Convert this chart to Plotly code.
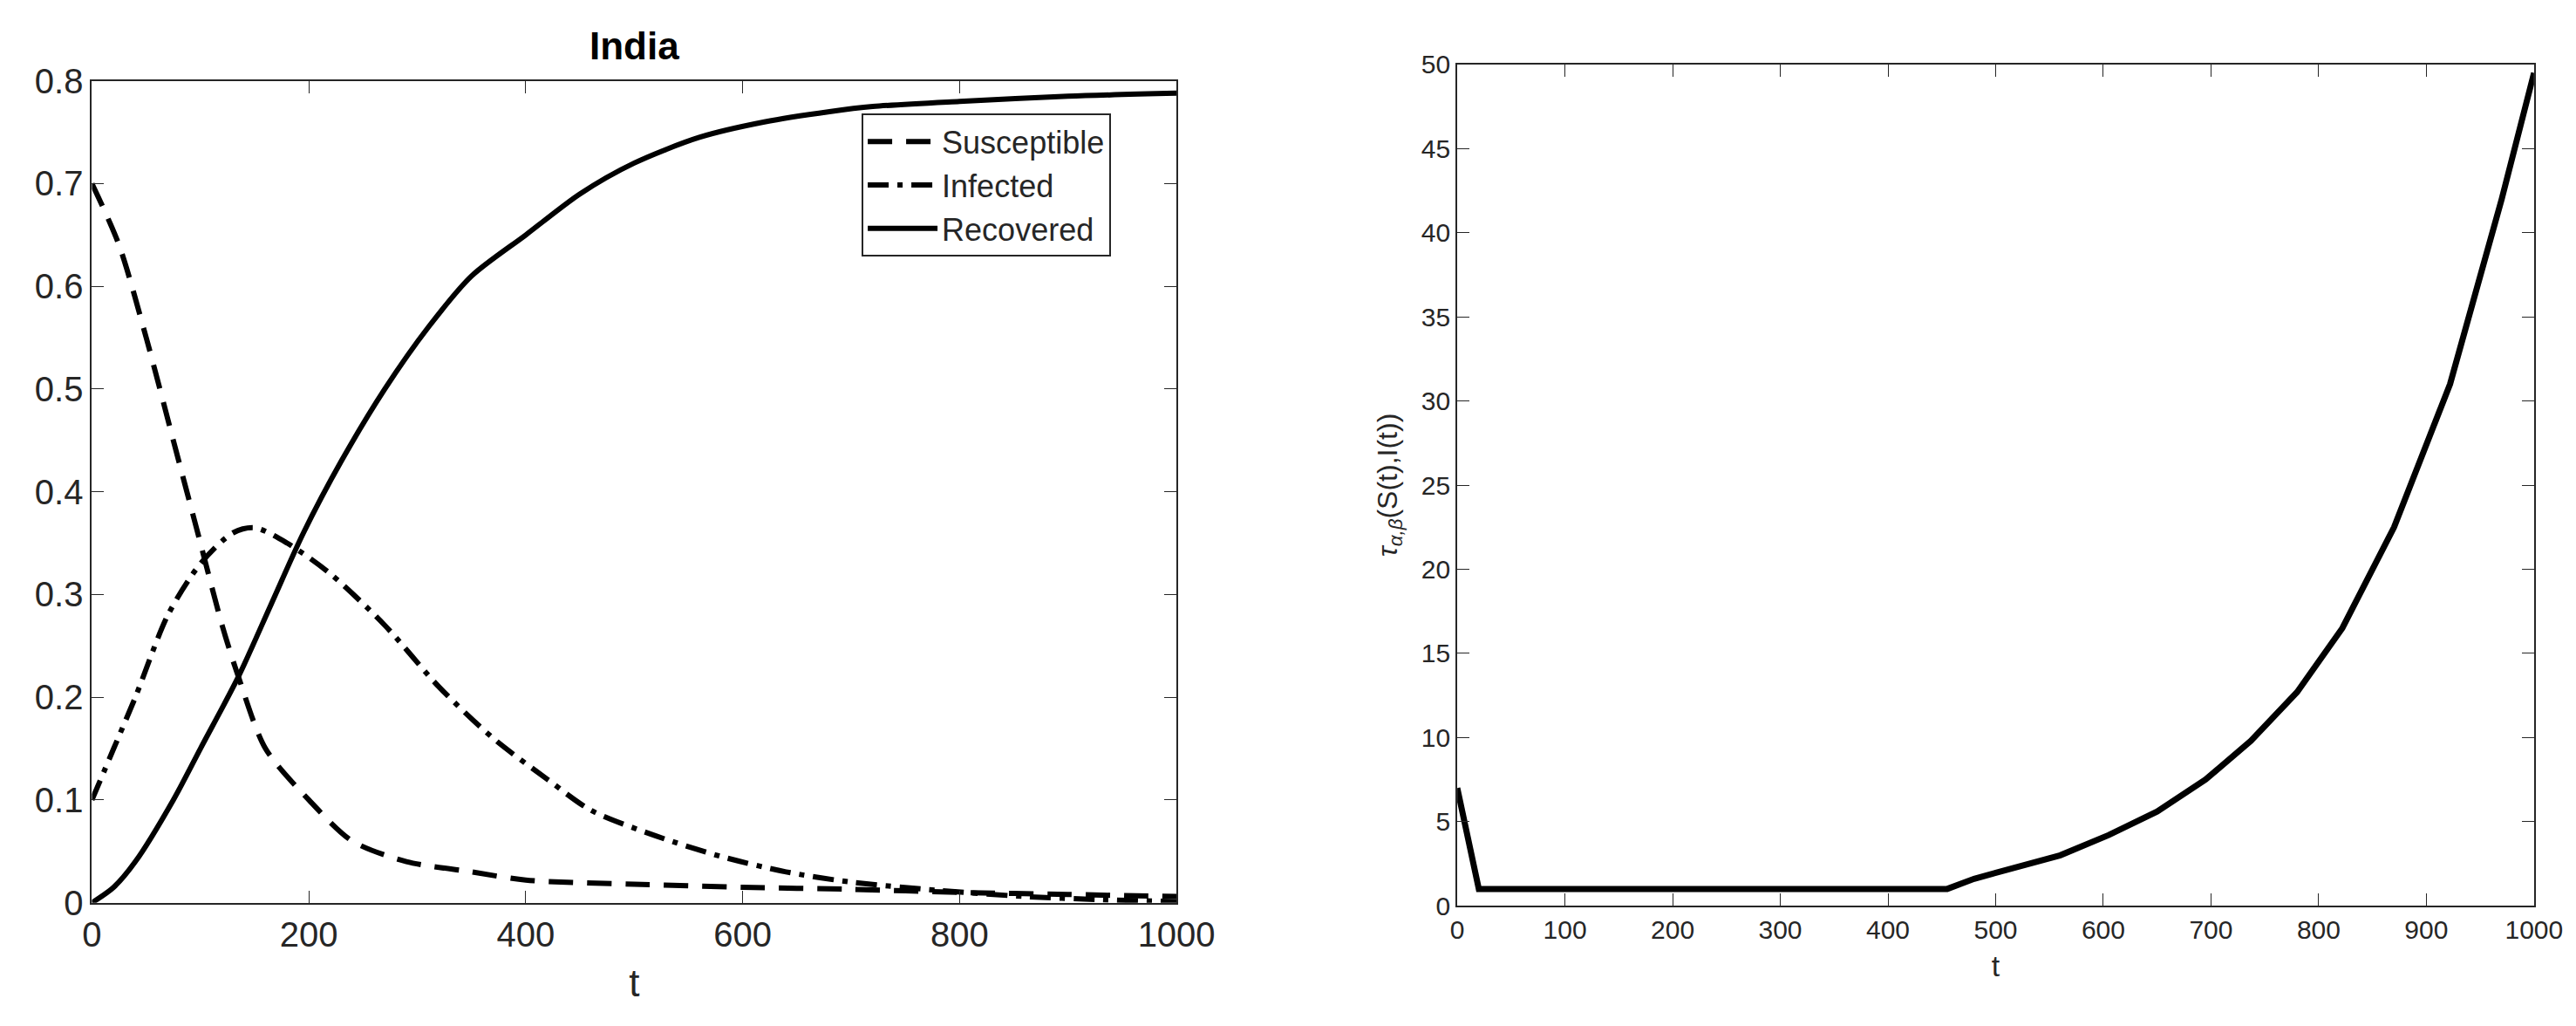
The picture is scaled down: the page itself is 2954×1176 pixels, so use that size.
import plotly.graph_objects as go

t_s = [0, 25, 50, 75, 100, 120, 135, 160, 200, 240, 290, 350, 400, 500, 600, 700, 800, 900, 1000]
S = [0.70, 0.64, 0.55, 0.45, 0.35, 0.27, 0.22, 0.15, 0.10, 0.06, 0.04, 0.03, 0.022, 0.018, 0.015, 0.013, 0.010, 0.008, 0.006]
t_i = [0, 20, 40, 70, 100, 130, 150, 180, 220, 270, 320, 370, 420, 460, 520, 580, 640, 700, 780, 860, 930, 1000]
I = [0.10, 0.15, 0.20, 0.28, 0.33, 0.36, 0.365, 0.35, 0.32, 0.27, 0.21, 0.16, 0.12, 0.09, 0.065, 0.045, 0.03, 0.02, 0.012, 0.006, 0.003, 0.001]
t_r = [0, 20, 40, 75, 100, 135, 165, 195, 230, 270, 310, 350, 400, 450, 500, 560, 620, 680, 720, 800, 900, 1000]
R = [0.0, 0.015, 0.04, 0.10, 0.15, 0.22, 0.29, 0.36, 0.43, 0.50, 0.56, 0.61, 0.65, 0.69, 0.72, 0.745, 0.76, 0.77, 0.775, 0.78, 0.785, 0.788]
t_tau = [0, 20, 100, 200, 300, 400, 455, 480, 520, 560, 605, 650, 695, 737, 780, 822, 870, 922, 970, 1000]
tau = [7, 1, 1, 1, 1, 1, 1, 1.6, 2.3, 3.0, 4.2, 5.6, 7.5, 9.8, 12.7, 16.5, 22.5, 31, 42, 49.5]

FONT = "Liberation Sans"
fig = go.Figure()
fig.add_trace(go.Scatter(x=t_s, y=S, mode="lines", name="Susceptible", line=dict(color="black", width=6, dash="28px,16px", shape="spline", smoothing=0.8), xaxis="x", yaxis="y"))
fig.add_trace(go.Scatter(x=t_i, y=I, mode="lines", name="Infected", line=dict(color="black", width=6, dash="24px,10px,6px,10px", shape="spline", smoothing=0.8), xaxis="x", yaxis="y"))
fig.add_trace(go.Scatter(x=t_r, y=R, mode="lines", name="Recovered", line=dict(color="black", width=6, shape="spline", smoothing=0.8), xaxis="x", yaxis="y"))
fig.add_trace(go.Scatter(x=t_tau, y=tau, mode="lines", showlegend=False, line=dict(color="black", width=7), xaxis="x2", yaxis="y2"))

ax = dict(showline=True, linecolor="#262626", linewidth=2, mirror="ticks", ticks="inside", ticklen=14, tickcolor="#262626",
          showgrid=False, zeroline=False, automargin=False)
fig.update_layout(
    width=2954, height=1176, paper_bgcolor="white", plot_bgcolor="white",
    margin=dict(l=0, r=0, t=0, b=0, autoexpand=False),
    font=dict(family=FONT, color="#262626"),
    xaxis=dict(ax, domain=[0.033, 0.454], range=[0, 1000], tickvals=[0, 200, 400, 600, 800, 1000], tickfont=dict(size=40),
               title=dict(text="t", font=dict(size=44), standoff=20), anchor="y"),
    yaxis=dict(ax, domain=[0.127, 0.928], range=[0, 0.8], tickvals=[0, 0.1, 0.2, 0.3, 0.4, 0.5, 0.6, 0.7, 0.8], tickformat=".1~f", tickfont=dict(size=40), anchor="x"),
    xaxis2=dict(ax, domain=[0.563, 0.981], range=[0, 1000], dtick=100, tickfont=dict(size=30),
                title=dict(text="t", font=dict(size=34), standoff=14), anchor="y2"),
    yaxis2=dict(ax, domain=[0.124, 0.944], range=[0, 50], dtick=5, tickfont=dict(size=30),
                title=dict(text="<i>τ</i><sub><i>α,β</i></sub>(S(t),I(t))", font=dict(size=32), standoff=18), anchor="x2"),
    legend=dict(x=0.4286, xanchor="right", y=0.896, yanchor="top", bgcolor="white", bordercolor="#262626", borderwidth=2,
                font=dict(size=36, color="#262626"), itemwidth=80),
    annotations=[dict(text="<b>India</b>", x=0.2435, y=0.94, xref="paper", yref="paper", xanchor="center", yanchor="bottom",
                      showarrow=False, font=dict(size=44, color="black"))],
)
fig.write_html("out.html")
